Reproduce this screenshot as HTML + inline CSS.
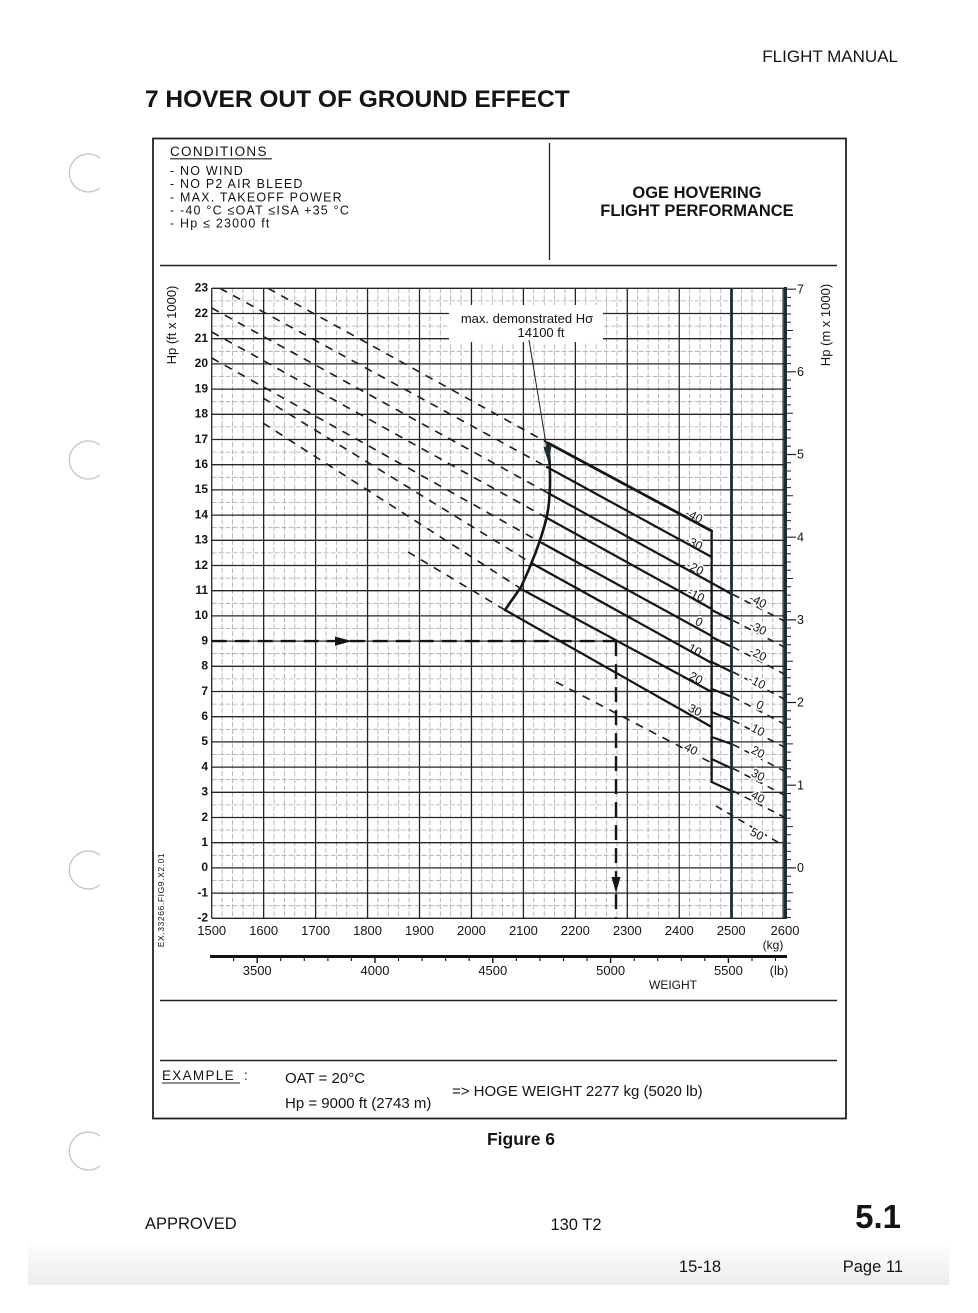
<!DOCTYPE html>
<html><head><meta charset="utf-8">
<style>
html,body{margin:0;padding:0;background:#fff;}
svg{display:block;}
text{font-family:"Liberation Sans",Arial,sans-serif;fill:#141414;}
.h{paint-order:stroke;stroke:#fff;stroke-width:3.5px;stroke-linejoin:round;}
</style></head><body>
<svg width="978" height="1313" viewBox="0 0 978 1313" xmlns="http://www.w3.org/2000/svg">
<defs>
<linearGradient id="bg" x1="0" y1="0" x2="0" y2="1"><stop offset="0" stop-color="#ffffff"/><stop offset="1" stop-color="#ececec"/></linearGradient>
</defs>
<rect x="0" y="0" width="978" height="1313" fill="#fff"/>
<rect x="28" y="1240" width="921" height="45" fill="url(#bg)"/>

<!-- hole punches -->
<g fill="none" stroke="#c4c4c4" stroke-width="1.3">
<path d="M100 158 A19 19 0 1 0 100 188"/>
<path d="M100 445 A19 19 0 1 0 100 475"/>
<path d="M100 855 A19 19 0 1 0 100 885"/>
<path d="M100 1136 A19 19 0 1 0 100 1166"/>
</g>

<!-- header -->
<text x="898" y="62" font-size="17" text-anchor="end">FLIGHT MANUAL</text>
<text x="145" y="107" font-size="24.5" font-weight="bold">7 HOVER OUT OF GROUND EFFECT</text>

<rect x="153" y="138.5" width="693" height="980" fill="none" stroke="#222" stroke-width="1.8"/>
<line x1="549.5" y1="143" x2="549.5" y2="260" stroke="#222" stroke-width="1.3"/>
<line x1="160" y1="265.5" x2="837" y2="265.5" stroke="#222" stroke-width="1.6"/>
<line x1="160" y1="1000.5" x2="837" y2="1000.5" stroke="#222" stroke-width="1.6"/>
<line x1="160" y1="1060.5" x2="837" y2="1060.5" stroke="#222" stroke-width="1.6"/>

<text x="170" y="156" font-size="13.5" letter-spacing="1.3">CONDITIONS</text>
<line x1="170" y1="158.8" x2="272" y2="158.8" stroke="#222" stroke-width="1.1"/>
<g font-size="12.5" letter-spacing="1.2">
<text x="170" y="175">- NO WIND</text>
<text x="170" y="188">- NO P2 AIR BLEED</text>
<text x="170" y="201.5">- MAX. TAKEOFF POWER</text>
<text x="170" y="214.5">- -40 °C ≤OAT ≤ISA +35 °C</text>
<text x="170" y="227.5">- Hp ≤ 23000 ft</text>
</g>
<text x="697" y="198" font-size="16.5" font-weight="bold" text-anchor="middle">OGE HOVERING</text>
<text x="697" y="216" font-size="16.5" font-weight="bold" text-anchor="middle">FLIGHT PERFORMANCE</text>

<!-- minor grid -->
<path fill="none" stroke="#a3a8b0" stroke-width="0.8" stroke-dasharray="5 2" d="M211.7 300.9H786M211.7 326.1H786M211.7 351.3H786M211.7 376.5H786M211.7 401.7H786M211.7 426.9H786M211.7 452.1H786M211.7 477.3H786M211.7 502.5H786M211.7 527.7H786M211.7 552.9H786M211.7 578.1H786M211.7 603.3H786M211.7 628.5H786M211.7 653.7H786M211.7 678.9H786M211.7 704.1H786M211.7 729.3H786M211.7 754.5H786M211.7 779.7H786M211.7 804.9H786M211.7 830.1H786M211.7 855.3H786M211.7 880.5H786M211.7 905.7H786"/>
<path fill="none" stroke="#a3a8b0" stroke-width="0.8" stroke-dasharray="5 2" d="M222.1 288.3V918.3M232.5 288.3V918.3M242.9 288.3V918.3M253.3 288.3V918.3M274 288.3V918.3M284.4 288.3V918.3M294.8 288.3V918.3M305.2 288.3V918.3M326 288.3V918.3M336.4 288.3V918.3M346.8 288.3V918.3M357.2 288.3V918.3M377.9 288.3V918.3M388.3 288.3V918.3M398.7 288.3V918.3M409.1 288.3V918.3M429.9 288.3V918.3M440.3 288.3V918.3M450.7 288.3V918.3M461.1 288.3V918.3M481.8 288.3V918.3M492.2 288.3V918.3M502.6 288.3V918.3M513 288.3V918.3M533.8 288.3V918.3M544.2 288.3V918.3M554.6 288.3V918.3M565 288.3V918.3M585.7 288.3V918.3M596.1 288.3V918.3M606.5 288.3V918.3M616.9 288.3V918.3M637.7 288.3V918.3M648.1 288.3V918.3M658.5 288.3V918.3M668.9 288.3V918.3M689.6 288.3V918.3M700 288.3V918.3M710.4 288.3V918.3M720.8 288.3V918.3M741.6 288.3V918.3M752 288.3V918.3M762.4 288.3V918.3M772.8 288.3V918.3"/>

<!-- major grid -->
<path fill="none" stroke="#262626" stroke-width="1.3" d="M211.7 288.3H786M211.7 313.5H786M211.7 338.7H786M211.7 363.9H786M211.7 389.1H786M211.7 414.3H786M211.7 439.5H786M211.7 464.7H786M211.7 489.9H786M211.7 515.1H786M211.7 540.3H786M211.7 565.5H786M211.7 590.7H786M211.7 615.9H786M211.7 641.1H786M211.7 666.3H786M211.7 691.5H786M211.7 716.7H786M211.7 741.9H786M211.7 767.1H786M211.7 792.3H786M211.7 817.5H786M211.7 842.7H786M211.7 867.9H786M211.7 893.1H786M211.7 918.3H786"/>
<path fill="none" stroke="#262626" stroke-width="1.3" d="M211.7 288.3V918.3M263.65 288.3V918.3M315.6 288.3V918.3M367.55 288.3V918.3M419.5 288.3V918.3M471.45 288.3V918.3M523.4 288.3V918.3M575.35 288.3V918.3M627.3 288.3V918.3M679.25 288.3V918.3M783.15 288.3V918.3"/>

<!-- label box (white) -->
<rect x="449" y="305" width="154" height="37" fill="#fff"/>

<!-- dashed extensions upper-left -->
<g fill="none" stroke="#1c1c1c" stroke-width="1.6" stroke-dasharray="8 7">
<path d="M268 288.3L548 443"/>
<path d="M220 288.3L547 467"/>
<path d="M211.7 308L548 493"/>
<path d="M211.7 332L547 518"/>
<path d="M211.7 358L542 543"/>
<path d="M263 398L533 564"/>
<path d="M263 423L523 590"/>
<path d="M408 552L505 610"/>
<path d="M556 682L711.7 763"/>
</g>

<!-- band labels -->
<g font-size="12" text-anchor="middle" class="h">
<text transform="translate(694,516) rotate(27)" dy="4">-40</text>
<text transform="translate(694,543) rotate(27)" dy="4">-30</text>
<text transform="translate(695,568) rotate(27)" dy="4">-20</text>
<text transform="translate(696,595) rotate(27)" dy="4">-10</text>
<text transform="translate(699,622) rotate(27)" dy="4">0</text>
<text transform="translate(695,650) rotate(27)" dy="4">10</text>
<text transform="translate(696,678) rotate(27)" dy="4">20</text>
<text transform="translate(695,710) rotate(27)" dy="4">30</text>
<text transform="translate(691,749) rotate(27)" dy="4">40</text>
</g>

<!-- main OAT lines -->
<g fill="none" stroke="#151515" stroke-width="2.2" stroke-linecap="round">
<path d="M548 443L711.7 531" stroke-width="2.7"/>
<path d="M547 467L711.7 557"/>
<path d="M548 493L711.7 583"/>
<path d="M547 518L711.7 609"/>
<path d="M542 543L711.7 636"/>
<path d="M533 564L711.7 663"/>
<path d="M523 590L711.7 692"/>
<path d="M505 610L711.7 727"/>
<path d="M711.7 531V782"/>
<path d="M711.7 583L731.5 594"/>
<path d="M711.7 610L731.5 620"/>
<path d="M711.7 637L731.5 646.7"/>
<path d="M711.7 662L731.5 671.7"/>
<path d="M711.7 689L731.5 696.7"/>
<path d="M711.7 712L731.5 720"/>
<path d="M711.7 737L731.5 744"/>
<path d="M711.7 759L731.5 768.3"/>
<path d="M711.7 782L731.5 791"/>
<path d="M548 443C551 470 551 500 546 520S531 566 521 587L505 610" stroke-width="2.6"/>
</g>

<!-- right dashed lines -->
<g fill="none" stroke="#1c1c1c" stroke-width="1.6" stroke-dasharray="7 6">
<path d="M733 594.5L786 622"/>
<path d="M733 620.5L786 648"/>
<path d="M733 647L786 675"/>
<path d="M733 672L786 700"/>
<path d="M733 697L786 725"/>
<path d="M733 720.5L786 748"/>
<path d="M733 744.5L786 772"/>
<path d="M733 768.5L786 796"/>
<path d="M733 791L786 818"/>
<path d="M716 806L786 847"/>
</g>
<g font-size="12" text-anchor="middle" class="h">
<text transform="translate(758,601) rotate(27)" dy="4">-40</text>
<text transform="translate(758,628) rotate(27)" dy="4">-30</text>
<text transform="translate(758,654) rotate(27)" dy="4">-20</text>
<text transform="translate(757,682) rotate(27)" dy="4">-10</text>
<text transform="translate(760,705) rotate(27)" dy="4">0</text>
<text transform="translate(758,730) rotate(27)" dy="4">10</text>
<text transform="translate(758,752) rotate(27)" dy="4">20</text>
<text transform="translate(758,775) rotate(27)" dy="4">30</text>
<text transform="translate(758,797) rotate(27)" dy="4">40</text>
<text transform="translate(757,834) rotate(27)" dy="4">50</text>
</g>

<!-- 2500 thick line and right axis -->
<line x1="731.5" y1="288.3" x2="731.5" y2="918.3" stroke="#1a2e38" stroke-width="2.8"/>
<line x1="785.5" y1="287" x2="785.5" y2="919" stroke="#1a2e38" stroke-width="3"/>
<path fill="none" stroke="#222" stroke-width="1" d="M787 917.5h4M787 909.2h4M787 901h4M787 892.7h6M787 884.4h4M787 876.2h4M787 859.6h4M787 851.4h4M787 843.1h4M787 834.8h4M787 826.6h6M787 818.3h4M787 810h4M787 801.8h4M787 793.5h4M787 776.9h4M787 768.7h4M787 760.4h4M787 752.1h4M787 743.9h6M787 735.6h4M787 727.3h4M787 719.1h4M787 710.8h4M787 694.3h4M787 686h4M787 677.7h4M787 669.5h4M787 661.2h6M787 652.9h4M787 644.7h4M787 636.4h4M787 628.1h4M787 611.6h4M787 603.3h4M787 595.1h4M787 586.8h4M787 578.5h6M787 570.3h4M787 562h4M787 553.7h4M787 545.5h4M787 528.9h4M787 520.6h4M787 512.4h4M787 504.1h4M787 495.8h6M787 487.6h4M787 479.3h4M787 471h4M787 462.8h4M787 446.2h4M787 438h4M787 429.7h4M787 421.4h4M787 413.2h6M787 404.9h4M787 396.6h4M787 388.4h4M787 380.1h4M787 363.6h4M787 355.3h4M787 347h4M787 338.8h4M787 330.5h6M787 322.2h4M787 314h4M787 305.7h4M787 297.4h4"/>
<path fill="none" stroke="#222" stroke-width="1.2" d="M787 867.9h9M787 785.2h9M787 702.5h9M787 619.9h9M787 537.2h9M787 454.5h9M787 371.8h9M787 289.2h9"/>
<g font-size="12.5">
<text x="797" y="293.5">7</text>
<text x="797" y="376">6</text>
<text x="797" y="458.7">5</text>
<text x="797" y="541.4">4</text>
<text x="797" y="624.1">3</text>
<text x="797" y="706.7">2</text>
<text x="797" y="789.4">1</text>
<text x="797" y="872.1">0</text>
</g>

<!-- example lines -->
<g fill="none" stroke="#151515" stroke-width="2.4" stroke-dasharray="15 8">
<path d="M211.7 641.1H616"/>
<path d="M616 641.1V918"/>
</g>
<path d="M335 636.5L352 641.1L335 645.7Z" fill="#151515"/>
<path d="M611.5 877L620.5 877L616 893Z" fill="#151515"/>

<!-- max demonstrated label -->
<text x="527" y="323" font-size="13" text-anchor="middle">max. demonstrated Hσ</text>
<text x="541" y="337" font-size="13" text-anchor="middle">14100 ft</text>
<line x1="529" y1="340" x2="547" y2="450" stroke="#222" stroke-width="1"/>
<path d="M543.5 447L551.5 446L548.5 463Z" fill="#1a2e38"/>

<!-- axis labels -->
<g font-size="12" font-weight="bold" text-anchor="end">
<text x="208" y="291.6">23</text>
<text x="208" y="316.8">22</text>
<text x="208" y="342">21</text>
<text x="208" y="367.2">20</text>
<text x="208" y="392.4">19</text>
<text x="208" y="417.6">18</text>
<text x="208" y="442.8">17</text>
<text x="208" y="468">16</text>
<text x="208" y="493.2">15</text>
<text x="208" y="518.4">14</text>
<text x="208" y="543.6">13</text>
<text x="208" y="568.8">12</text>
<text x="208" y="594">11</text>
<text x="208" y="619.2">10</text>
<text x="208" y="644.4">9</text>
<text x="208" y="669.6">8</text>
<text x="208" y="694.8">7</text>
<text x="208" y="720">6</text>
<text x="208" y="745.2">5</text>
<text x="208" y="770.4">4</text>
<text x="208" y="795.6">3</text>
<text x="208" y="820.8">2</text>
<text x="208" y="846">1</text>
<text x="208" y="871.2">0</text>
<text x="208" y="896.4">-1</text>
<text x="208" y="921.6">-2</text>
</g>
<text transform="translate(176,325) rotate(-90)" font-size="13" text-anchor="middle">Hp (ft x 1000)</text>
<text transform="translate(830,325) rotate(-90)" font-size="13" text-anchor="middle">Hp (m x 1000)</text>
<text transform="translate(164,900) rotate(-90)" font-size="8.5" letter-spacing="0.6" text-anchor="middle">EX.33266.FIG9.X2.01</text>

<g font-size="13" text-anchor="middle">
<text x="211.7" y="935">1500</text>
<text x="263.65" y="935">1600</text>
<text x="315.6" y="935">1700</text>
<text x="367.55" y="935">1800</text>
<text x="419.5" y="935">1900</text>
<text x="471.45" y="935">2000</text>
<text x="523.4" y="935">2100</text>
<text x="575.35" y="935">2200</text>
<text x="627.3" y="935">2300</text>
<text x="679.25" y="935">2400</text>
<text x="731.2" y="935">2500</text>
<text x="785" y="935">2600</text>
</g>
<text x="773" y="949" font-size="12" text-anchor="middle">(kg)</text>

<!-- lb axis -->
<line x1="210" y1="956.5" x2="787" y2="956.5" stroke="#111" stroke-width="3"/>
<path fill="none" stroke="#111" stroke-width="1.1" d="M233.6 956v5M280.7 956v5M304.3 956v5M327.9 956v5M351.4 956v5M398.5 956v5M422.1 956v5M445.7 956v5M469.2 956v5M516.3 956v5M539.9 956v5M563.5 956v5M587 956v5M634.2 956v5M657.7 956v5M681.3 956v5M704.8 956v5M752 956v5M775.5 956v5"/>
<path fill="none" stroke="#111" stroke-width="1.4" d="M257.2 956v7M375 956v7M492.8 956v7M610.6 956v7M728.4 956v7"/>
<g font-size="13" text-anchor="middle">
<text x="257.2" y="975">3500</text>
<text x="375" y="975">4000</text>
<text x="492.8" y="975">4500</text>
<text x="610.6" y="975">5000</text>
<text x="728.4" y="975">5500</text>
<text x="779" y="975">(lb)</text>
</g>
<text x="673" y="989" font-size="12" text-anchor="middle">WEIGHT</text>

<!-- example -->
<text x="162" y="1080" font-size="13.5" letter-spacing="1.3">EXAMPLE</text>
<line x1="162" y1="1083" x2="240" y2="1083" stroke="#222" stroke-width="1.1"/>
<text x="244" y="1080" font-size="13.5">:</text>
<text x="285" y="1083" font-size="15">OAT = 20°C</text>
<text x="285" y="1108" font-size="15">Hp = 9000 ft (2743 m)</text>
<text x="452" y="1096" font-size="15">=&gt;  HOGE WEIGHT 2277 kg (5020 lb)</text>

<text x="521" y="1145" font-size="17.5" font-weight="bold" text-anchor="middle">Figure 6</text>

<!-- footer -->
<text x="145" y="1229" font-size="16.5">APPROVED</text>
<text x="576" y="1230" font-size="16.5" text-anchor="middle">130 T2</text>
<text x="901" y="1228" font-size="33" font-weight="bold" text-anchor="end">5.1</text>
<text x="700" y="1272" font-size="16.5" text-anchor="middle">15-18</text>
<text x="903" y="1272" font-size="16.5" text-anchor="end">Page 11</text>
</svg>
</body></html>
